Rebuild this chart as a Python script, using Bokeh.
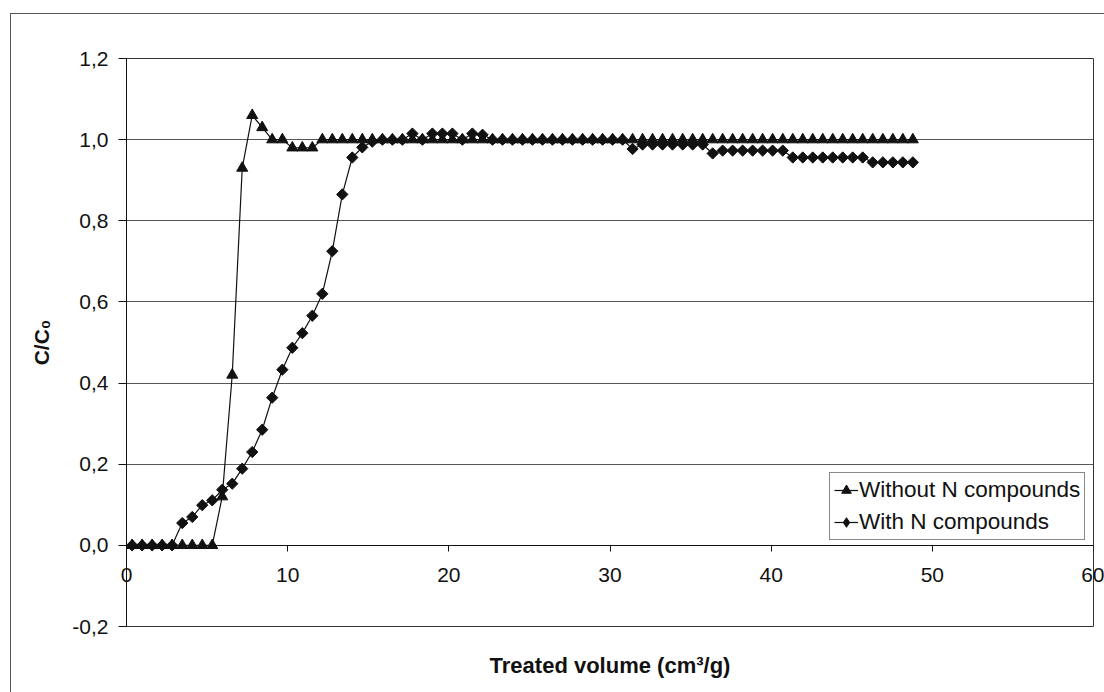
import numpy as np
from bokeh.plotting import figure
from bokeh.models import Range1d, FixedTicker, Legend, LegendItem, LinearAxis
from bokeh.embed import file_html
from bokeh.resources import INLINE

# ---- data ----
volume = [0.35, 0.97, 1.59, 2.21, 2.83, 3.46, 4.08, 4.70, 5.32, 5.94,
          6.56, 7.18, 7.80, 8.42, 9.04, 9.67, 10.29, 10.91, 11.53, 12.15,
          12.77, 13.39, 14.01, 14.63, 15.25, 15.88, 16.50, 17.12, 17.74, 18.36,
          18.98, 19.60, 20.22, 20.84, 21.46, 22.09, 22.71, 23.33, 23.95, 24.57,
          25.19, 25.81, 26.43, 27.05, 27.67, 28.30, 28.92, 29.54, 30.16, 30.78,
          31.40, 32.02, 32.64, 33.26, 33.88, 34.51, 35.13, 35.75, 36.37, 36.99,
          37.61, 38.23, 38.85, 39.47, 40.09, 40.72, 41.34, 41.96, 42.58, 43.20,
          43.82, 44.44, 45.06, 45.68, 46.30, 46.93, 47.55, 48.17, 48.79]

without_n = [0, 0, 0, 0, 0, 0, 0, 0, 0, 0.12,
             0.42, 0.93, 1.06, 1.03, 1.0, 1.0, 0.98, 0.98, 0.98, 1.0,
             1.0, 1.0, 1.0, 1.0, 1.0, 1.0, 1.0, 1.0, 1.0, 1.0,
             1.0, 1.0, 1.0, 1.0, 1.0, 1.0, 1.0, 1.0, 1.0, 1.0,
             1.0, 1.0, 1.0, 1.0, 1.0, 1.0, 1.0, 1.0, 1.0, 1.0,
             1.0, 1.0, 1.0, 1.0, 1.0, 1.0, 1.0, 1.0, 1.0, 1.0,
             1.0, 1.0, 1.0, 1.0, 1.0, 1.0, 1.0, 1.0, 1.0, 1.0,
             1.0, 1.0, 1.0, 1.0, 1.0, 1.0, 1.0, 1.0, 1.0]

with_n = [0, 0, 0, 0, 0, 0.055, 0.07, 0.099, 0.111, 0.137,
          0.152, 0.189, 0.23, 0.285, 0.364, 0.433, 0.487, 0.523, 0.566, 0.62,
          0.725, 0.865, 0.956, 0.981, 0.995, 1.0, 1.0, 1.0, 1.015, 1.0,
          1.015, 1.015, 1.015, 1.0, 1.015, 1.012, 1.0, 1.0, 1.0, 1.0,
          1.0, 1.0, 1.0, 1.0, 1.0, 1.0, 1.0, 1.0, 1.0, 1.0,
          0.977, 0.988, 0.988, 0.988, 0.988, 0.988, 0.988, 0.988, 0.966, 0.973,
          0.973, 0.973, 0.973, 0.973, 0.973, 0.973, 0.956, 0.956, 0.956, 0.956,
          0.956, 0.956, 0.956, 0.956, 0.944, 0.944, 0.944, 0.944, 0.944]

series_names = ["Without N compounds", "With N compounds"]
x_ticks = [0, 10, 20, 30, 40, 50, 60]
x_tick_labels = ["0", "10", "20", "30", "40", "50", "60"]
y_ticks = [-0.2, 0.0, 0.2, 0.4, 0.6, 0.8, 1.0, 1.2]
y_tick_labels = ["-0,2", "0,0", "0,2", "0,4", "0,6", "0,8", "1,0", "1,2"]
x_title = "Treated volume (cm³/g)"
y_title = "C/C₀"

FONT = "Liberation Sans"
INK = "#111111"

p = figure(width=1094, height=679, margin=(13, 0, 0, 10),
           styles={"border-left": "1px solid #555555",
                   "border-top": "1px solid #555555"},
           x_range=Range1d(0, 60), y_range=Range1d(-0.2, 1.2),
           output_backend="svg", toolbar_location=None,
           min_border_left=115, min_border_right=12,
           min_border_top=44, min_border_bottom=67)
p.background_fill_color = "white"
p.border_fill_color = "white"
p.outline_line_color = "#333333"
p.outline_line_width = 1

# grid
p.xgrid.visible = False
p.ygrid.ticker = FixedTicker(ticks=y_ticks)
p.ygrid.grid_line_color = "#555555"
p.ygrid.grid_line_width = 1

# x axis line and ticks crossing at y = 0
xa = p.xaxis[0]
xa.fixed_location = 0
xa.ticker = FixedTicker(ticks=x_ticks)
xa.axis_line_color = INK
xa.major_tick_line_color = INK
xa.major_tick_in = 0
xa.major_tick_out = 6
xa.minor_tick_line_color = None
xa.major_label_text_alpha = 0
xa.major_label_text_font_size = "1px"

# x tick labels + title, placed from the frame's bottom edge
xb = LinearAxis(ticker=FixedTicker(ticks=x_ticks))
xb.major_label_overrides = {t: l for t, l in zip(x_ticks, x_tick_labels)}
xb.axis_line_color = None
xb.major_tick_line_color = None
xb.major_tick_in = 0
xb.major_tick_out = 0
xb.minor_tick_line_color = None
xb.major_label_standoff = -59
xb.major_label_text_font = FONT
xb.major_label_text_font_size = "21px"
xb.major_label_text_color = INK
xb.axis_label = x_title
xb.axis_label_text_font = FONT
xb.axis_label_text_font_style = "bold"
xb.axis_label_text_font_size = "22px"
xb.axis_label_text_color = INK
xb.axis_label_standoff = 68
p.add_layout(xb, "below")

ya = p.yaxis[0]
ya.ticker = FixedTicker(ticks=y_ticks)
ya.major_label_overrides = {t: l for t, l in zip(y_ticks, y_tick_labels)}
ya.axis_line_color = INK
ya.major_tick_line_color = INK
ya.major_tick_in = 0
ya.major_tick_out = 8
ya.minor_tick_line_color = None
ya.major_label_standoff = 10
ya.major_label_text_font = FONT
ya.major_label_text_font_size = "21px"
ya.major_label_text_color = INK
ya.axis_label = y_title
ya.axis_label_text_font = FONT
ya.axis_label_text_font_style = "bold"
ya.axis_label_text_font_size = "21px"
ya.axis_label_text_color = INK
ya.axis_label_standoff = 16

# series
l1 = p.line(volume, without_n, line_color=INK, line_width=1.2)
s1 = p.scatter(volume, without_n, marker="triangle", size=11,
               fill_color=INK, line_color=INK)
l2 = p.line(volume, with_n, line_color=INK, line_width=1.2)
s2 = p.scatter(volume, with_n, marker="square", angle=np.pi / 4, size=8,
               fill_color=INK, line_color=INK)
# legend key for the diamonds (hidden in the plot itself)
s2_key = p.scatter(volume, with_n, marker="diamond", size=14,
                   fill_color=INK, line_color=INK, visible=False)

legend = Legend(items=[LegendItem(label=series_names[0], renderers=[l1, s1]),
                       LegendItem(label=series_names[1], renderers=[l2, s2_key])],
                location=(703, 86))
legend.label_text_font = FONT
legend.label_text_font_size = "22.5px"
legend.label_text_color = INK
legend.border_line_color = INK
legend.border_line_width = 1
legend.background_fill_color = "white"
legend.background_fill_alpha = 1
legend.inactive_fill_alpha = 0
legend.glyph_width = 24
legend.glyph_height = 24
legend.label_standoff = 1
legend.spacing = 6
legend.padding = 4
legend.margin = 0
p.add_layout(legend)

open("out.html", "w").write(file_html(p, INLINE))
